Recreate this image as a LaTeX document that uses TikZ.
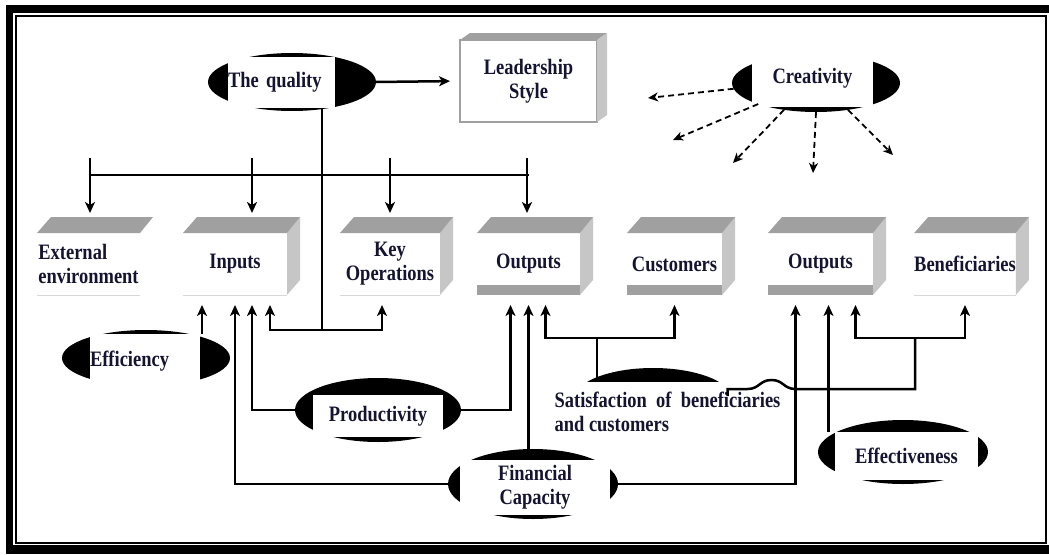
\documentclass[tikz,border=0pt]{standalone}
\usepackage{fontspec}
\setmainfont{Liberation Serif}[FakeStretch=0.84]
\usetikzlibrary{arrows.meta,shapes.geometric}
\definecolor{topgray}{RGB}{160,160,160}
\definecolor{sidegray}{RGB}{198,198,198}
\definecolor{edgegray}{RGB}{215,215,215}
\definecolor{inknavy}{RGB}{20,20,50}

\begin{document}
\begin{tikzpicture}[x=1pt,y=-1pt,
    txt/.style={font=\bfseries\fontsize{22}{24}\selectfont, text=inknavy, align=center},
    cube/.style={txt, inner sep=0pt, outer sep=0pt, minimum height=62pt},
    blob/.style={ellipse, fill=black, inner sep=0pt, outer sep=0pt},
    pill/.style={txt, fill=white, inner sep=0pt, outer sep=0pt},
    wire/.style={line width=2.5pt},
    arr/.style={wire, -{Stealth[length=11pt,width=10pt,inset=3pt]}},
    dasharr/.style={line width=1.8pt, dash pattern=on 6pt off 4pt, -{Stealth[length=10pt,width=9pt,inset=3pt]}}]
    \useasboundingbox (0,0) rectangle (1049,554);
    % frame
    \fill[black] (6,5) rectangle (1049,554);
    \fill[white] (13,13) rectangle (1049,545);
    \draw[line width=1.6pt] (16,16) rectangle (1046,543);

    % black caps behind the pills
    \node[blob, minimum width=168pt, minimum height=58pt] (qualE) at (292,82) {};
    \node[blob, minimum width=168pt, minimum height=58pt] (creatE) at (816,83) {};
    \node[blob, minimum width=168pt, minimum height=56pt] (effiE) at (146,358) {};
    \node[blob, minimum width=166pt, minimum height=64pt] (prodE) at (378,410) {};
    \node[blob, minimum width=160pt, minimum height=64pt] (satE) at (653,400) {};
    \node[blob, minimum width=170pt, minimum height=70pt] (finE) at (533,484) {};
    \node[blob, minimum width=170pt, minimum height=64pt] (effE) at (903,452) {};

    % pills
    \node[pill, text width=107pt, align=left, minimum height=51pt] (qual) at (281.5,82.5) {The quality};
    \node[pill, minimum width=121pt, minimum height=57pt] (creat) at (812.5,78.5) {Creativity};
    \node[pill, text width=110pt, align=left, minimum height=54pt] (effi) at (145,361) {Efficiency};
    \node[pill, minimum width=130pt, minimum height=42pt] (prod) at (378,416) {Productivity};
    \node[pill, minimum width=255pt, minimum height=60pt, align=left] (sat) at (667.5,412) {Satisfaction~~of~~beneficiaries\\and customers};
    \node[pill, minimum width=150pt, minimum height=55pt] (fin) at (535,487) {Financial\\Capacity};
    \node[pill, minimum width=143pt, minimum height=48pt] (eff) at (906.5,456) {Effectiveness};

    % boxes
    \node[cube, minimum width=137pt, minimum height=82pt, draw=topgray, line width=2pt] (lead) at (528.5,81) {Leadership\\Style};
    \node[cube, minimum width=103pt, align=left] (ext) at (88.5,264) {External\\environment};
    \node[cube, minimum width=104pt] (inp) at (235,264) {Inputs};
    \node[cube, minimum width=100pt] (keyop) at (390,264) {Key\\Operations};
    \node[cube, minimum width=103pt] (outa) at (528.5,264) {Outputs};
    \node[cube, minimum width=95pt] (cust) at (674.5,264) {Customers};
    \node[cube, minimum width=105pt] (outb) at (820.5,264) {Outputs};
    \node[cube, minimum width=94pt] (benef) at (965,264) {Beneficiaries};

    % box faces
    \fill[topgray] (lead.north west) -- ++(10,-7) -- ([xshift=10pt,yshift=7pt]lead.north east) -- (lead.north east) -- cycle;
    \fill[sidegray] (lead.north east) -- ++(10,-7) -- ([xshift=10pt,yshift=7pt]lead.south east) -- (lead.south east) -- cycle;
    \foreach \n in {inp,keyop,outa,cust,outb,benef}
      \fill[sidegray] (\n.north east) -- ++(13,-16) -- ([xshift=13pt,yshift=15pt]\n.south east) -- (\n.south east) -- cycle;
    \foreach \n in {ext,inp,keyop,outa,cust,outb,benef}
      \fill[topgray] (\n.north west) -- ++(14,-16) -- ([xshift=13pt,yshift=16pt]\n.north east) -- (\n.north east) -- cycle;
    \foreach \n in {outa,cust,outb}
      \fill[topgray] (\n.south west) rectangle ([yshift=10pt]\n.south east);
    \foreach \n in {ext,inp,keyop,benef}
      \draw[edgegray, line width=1pt] (\n.south west) -- (\n.south east);

    % quality
    \coordinate (hub) at (322,330);
    \coordinate (bus) at (322,175);
    \draw[arr, shorten >=10pt] (qualE.east) -- (lead.west);
    \draw[wire] (qual.south -| hub) -- (hub);
    \draw[wire] (bus -| ext.north) -- (bus -| outa.north);
    \foreach \n/\dx in {ext/1.5, inp/17, keyop/0, outa/-1.5}
      \draw[arr] ([xshift=\dx pt,yshift=75pt]\n.north) -- ([xshift=\dx pt,yshift=20pt]\n.north);
    \draw[arr] (hub) -| ([xshift=35pt,yshift=-10pt]inp.south);
    \draw[arr] (hub) -| ([xshift=-8pt,yshift=-10pt]keyop.south);

    % inputs
    \draw[arr] ([xshift=2pt]effi.north east) -- ([xshift=-33pt,yshift=-10pt]inp.south);
    \draw[arr] (finE.west) -| ([yshift=-10pt]inp.south);
    \draw[arr] (prodE.west) -| ([xshift=17pt,yshift=-10pt]inp.south);

    % outputs
    \draw[arr] (prodE.east) -| ([xshift=-18pt,yshift=-10pt]outa.south);
    \draw[arr] (finE.north -| outa.south) -- ([yshift=-10pt]outa.south);
    \coordinate (sj) at (597,338);
    \draw[wire] (sat.north -| sj) -- (sj);
    \draw[arr] (sj) -| ([xshift=17pt,yshift=-10pt]outa.south);
    \draw[arr] (sj) -| ([yshift=-10pt]cust.south);

    \draw[arr] (finE.east) -| ([xshift=-25pt,yshift=-10pt]outb.south);
    \coordinate (ob) at ([xshift=8pt]outb.south);
    \draw[arr] (ob |- eff.north) -- ([xshift=8pt,yshift=-10pt]outb.south);
    \coordinate (bj) at (915,338);
    \draw[wire] ([xshift=60pt,yshift=-14pt]sat.north) -- ++(0,-7) -- ++(20,0)
      .. controls +(12,0) and +(-12,0) .. ++(24,-9)
      .. controls +(12,0) and +(-12,0) .. ++(24,9) -| (bj);
    \draw[arr] (bj) -| ([xshift=35pt,yshift=-10pt]outb.south);
    \draw[arr] (bj) -| ([yshift=-10pt]benef.south);

    % creativity
    \coordinate (c1) at (648,98);
    \coordinate (c2) at (673,140);
    \coordinate (c3) at (733,163);
    \coordinate (c4) at (813,173);
    \coordinate (c5) at (893,155);
    \draw[dasharr] (creatE.184) -- (c1);
    \draw[dasharr] (creatE.200) -- (c2);
    \draw[dasharr] (creatE.220) -- (c3);
    \draw[dasharr] (creatE.270) -- (c4);
    \draw[dasharr] (creatE.320) -- (c5);
\end{tikzpicture}
\end{document}
